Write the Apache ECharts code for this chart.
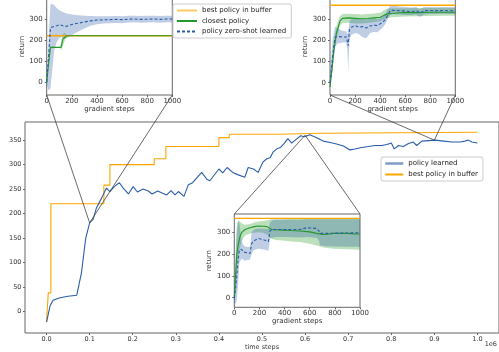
<!DOCTYPE html>
<html>
<head>
<meta charset="utf-8">
<script src="https://cdn.jsdelivr.net/npm/echarts@6/dist/echarts.min.js"></script>
<style>
  html, body { margin: 0; padding: 0; background: #fff; }
  #chart01 { width: 499px; height: 352px; }
</style>
</head>
<body>
<div id="chart01"></div>
<script>
// ---- main chart data (time steps in 1e6) ----
var policyX = [0.0, 0.008, 0.015, 0.031, 0.05, 0.07, 0.081, 0.091, 0.10, 0.108, 0.116, 0.128, 0.139, 0.147, 0.157,
  0.169, 0.178, 0.19, 0.201, 0.211, 0.224, 0.236, 0.245, 0.258, 0.268, 0.279, 0.289, 0.298, 0.306, 0.319,
  0.329, 0.339, 0.36, 0.372, 0.379, 0.40, 0.409, 0.419, 0.432, 0.445, 0.46, 0.468, 0.48, 0.491, 0.502,
  0.511, 0.519, 0.526, 0.536, 0.543, 0.551, 0.56, 0.569, 0.577, 0.59, 0.598, 0.611, 0.627, 0.642, 0.658,
  0.673, 0.689, 0.704, 0.716, 0.731, 0.747, 0.762, 0.778, 0.79, 0.80, 0.807, 0.817, 0.828, 0.84, 0.851,
  0.859, 0.871, 0.886, 0.902, 0.921, 0.94, 0.96, 0.971, 0.979, 0.987, 1.0];
var policyY = [-22, 11, 23, 28, 31, 33, 79, 150, 181, 188, 212, 232, 252, 245, 255,
  263, 252, 240, 255, 244, 250, 246, 240, 246, 242, 238, 247, 238, 245, 235,
  259, 263, 284, 270, 267, 291, 283, 294, 284, 279, 274, 294, 291, 284, 305,
  312, 314, 326, 333, 335, 343, 353, 344, 350, 359, 357, 361, 355, 348, 345,
  342, 338, 330, 332, 335, 337, 339, 339, 341, 344, 332, 339, 337, 343, 346,
  339, 348, 349, 350, 348, 346, 346, 348, 350, 346, 344];

var bufferX = [0, 0.004, 0.01, 0.133, 0.147, 0.25, 0.277, 0.40, 0.424, 0.54, 0.635, 1.0];
var bufferY = [-22, 38, 220, 258, 300, 312, 337, 355, 362, 364, 366, 366];

// points of the main curve that each inset zooms on
var zoomAnchors = [[0.1, 181], [0.9, 350], [0.6, 360]];

// ---- inset 1 (around 0.1e6) ----
var in1BestX = [0, 1000];
var in1BestY = [220, 220];
var in1CloseX = [0, 10, 30, 115, 130, 160, 1000];
var in1CloseY = [-5, 60, 165, 165, 205, 220, 220];
var in1CloseBandX = [0, 10, 30, 105, 115, 130, 145, 160, 1000];
var in1CloseLo = [-5, 55, 160, 165, 150, 175, 200, 220, 220];
var in1CloseHi = [-5, 65, 170, 165, 195, 230, 235, 220, 220];
var in1ZeroX = [0, 15, 30, 45, 60, 80, 100, 120, 140, 160, 180, 200, 250, 300, 350, 400, 450, 500, 550, 600, 650, 700, 750, 800, 850, 900, 950, 1000];
var in1ZeroY = [0, 120, 258, 262, 265, 268, 272, 270, 264, 266, 270, 274, 280, 286, 291, 295, 296, 297, 298, 297, 299, 300, 298, 299, 300, 298, 300, 300];
var in1ZeroLo = [-10, -40, -30, 60, 150, 190, 210, 215, 205, 210, 215, 222, 240, 255, 268, 275, 278, 280, 281, 280, 283, 284, 282, 283, 284, 282, 284, 284];
var in1ZeroHi = [5, 200, 370, 372, 365, 352, 342, 336, 330, 326, 324, 322, 318, 316, 314, 313, 313, 313, 314, 313, 315, 315, 314, 315, 316, 314, 316, 316];

// ---- inset 2 (around 0.9e6) ----
var in2BestX = [0, 1000];
var in2BestY = [366, 366];
var in2CloseX = [0, 15, 30, 50, 80, 100, 150, 200, 250, 300, 350, 400, 430, 460, 480, 520, 560, 600, 700, 800, 900, 1000];
var in2CloseY = [-20, 60, 150, 230, 292, 304, 306, 304, 302, 303, 306, 309, 318, 325, 327, 328, 330, 331, 331, 333, 333, 333];
var in2CloseLo = [-30, 30, 120, 200, 270, 282, 283, 280, 280, 282, 285, 290, 298, 306, 308, 310, 312, 313, 314, 315, 316, 316];
var in2CloseHi = [-10, 90, 180, 265, 315, 324, 326, 325, 322, 324, 327, 330, 342, 350, 352, 352, 352, 352, 353, 353, 354, 354];
var in2ZeroX = [0, 20, 40, 60, 100, 130, 140, 145, 155, 170, 200, 230, 260, 290, 320, 350, 380, 400, 420, 440, 460, 480, 500, 550, 600, 650, 690, 700, 720, 750, 800, 850, 900, 950, 1000];
var in2ZeroY = [0, 120, 216, 218, 216, 216, 190, 175, 250, 262, 270, 262, 265, 258, 268, 272, 270, 278, 285, 297, 318, 340, 342, 340, 338, 335, 340, 332, 328, 340, 341, 340, 341, 340, 340];
var in2ZeroLo = [-20, 60, 170, 185, 190, 190, 150, 50, 200, 225, 235, 230, 215, 210, 235, 240, 238, 250, 260, 275, 300, 320, 325, 322, 320, 318, 322, 315, 312, 322, 325, 325, 326, 325, 325];
var in2ZeroHi = [20, 200, 265, 255, 245, 242, 230, 240, 290, 300, 305, 300, 302, 300, 302, 305, 300, 305, 315, 325, 345, 362, 365, 360, 358, 355, 358, 350, 348, 358, 358, 356, 357, 356, 356];

// ---- inset 3 (around 0.6e6) ----
var in3BestX = [0, 1000];
var in3BestY = [364, 364];
var in3CloseX = [0, 10, 20, 30, 45, 60, 85, 125, 160, 190, 230, 260, 297, 330, 390, 450, 523, 600, 655, 680, 708, 740, 788, 850, 894, 950, 1000];
var in3CloseY = [5, 100, 200, 240, 280, 300, 313, 321, 326, 329, 328, 326, 313, 312, 310, 308, 306, 302, 295, 293, 290, 291, 295, 295, 295, 293, 292];
var in3CloseLo = [-20, 20, 120, 180, 230, 260, 285, 295, 298, 300, 298, 290, 270, 265, 262, 258, 255, 248, 240, 235, 230, 228, 225, 224, 222, 221, 220];
var in3CloseHi = [20, 200, 330, 355, 350, 340, 335, 338, 345, 350, 352, 355, 360, 360, 360, 362, 362, 362, 362, 362, 362, 362, 364, 364, 364, 364, 364];
var in3ZeroX = [0, 10, 20, 30, 40, 58, 70, 85, 125, 138, 150, 164, 191, 218, 244, 271, 284, 300, 337, 416, 523, 576, 655, 675, 682, 700, 735, 800, 900, 1000];
var in3ZeroY = [-3, 40, 100, 170, 219, 222, 210, 203, 203, 249, 258, 264, 272, 268, 264, 257, 307, 312, 313, 313, 313, 321, 318, 305, 295, 295, 295, 296, 297, 298];
var in3ZeroLo = [-20, -30, -10, 60, 160, 180, 175, 170, 175, 200, 215, 220, 225, 222, 220, 215, 270, 275, 278, 278, 276, 278, 275, 260, 240, 238, 236, 235, 234, 234];
var in3ZeroHi = [10, 150, 300, 350, 345, 260, 245, 235, 232, 300, 310, 315, 318, 318, 316, 315, 345, 355, 358, 358, 358, 360, 360, 360, 360, 360, 360, 360, 360, 360];

var mainXTicks = [0, 0.1, 0.2, 0.3, 0.4, 0.5, 0.6, 0.7, 0.8, 0.9, 1.0];
var mainYTicks = [0, 50, 100, 150, 200, 250, 300, 350];
var insetYTicks = [0, 100, 200, 300];

// ---- styling ----
var FONT = 'DejaVu Sans';
var C_BLUE = '#2a5da8';
var C_ORANGE = '#ffa500';
var C_GREEN = '#22992a';
var C_BLUE_BAND = 'rgba(42,93,168,0.3)';
var C_GREEN_BAND = 'rgba(50,160,50,0.33)';
var FRAME = '#666';

var insetRange = [
  { ymin: -62, ymax: 400 },
  { ymin: -58, ymax: 400 },
  { ymin: -44, ymax: 384 }
];

function pairs(xs, ys) {
  return xs.map(function (x, i) { return [x, ys[i]]; });
}

// shaded band between lo and hi, drawn as one polygon through the axes
function band(ax, xs, lo, hi, color) {
  return {
    type: 'custom', xAxisIndex: ax, yAxisIndex: ax, silent: true, z: 1,
    data: xs.map(function (x, i) { return [x, lo[i], hi[i]]; }),
    encode: { x: 0, y: [1, 2] },
    renderItem: function (params, api) {
      if (params.dataIndex !== 0) return null;
      var pts = [];
      for (var i = 0; i < xs.length; i++) pts.push(api.coord([xs[i], hi[i]]));
      for (var j = xs.length - 1; j >= 0; j--) pts.push(api.coord([xs[j], lo[j]]));
      return { type: 'polygon', shape: { points: pts }, style: { fill: color } };
    }
  };
}

function insetX(ax) {
  return {
    type: 'value', gridIndex: ax, min: 0, max: 1000, interval: 200,
    name: 'gradient steps', nameLocation: 'middle', nameGap: 9.5,
    nameTextStyle: { fontFamily: FONT, fontSize: 7, color: '#333' },
    axisLine: { show: false, onZero: false },
    axisTick: { show: true, inside: false, length: 2, lineStyle: { color: FRAME } },
    axisLabel: { fontFamily: FONT, fontSize: 7, color: '#333', margin: 2.5,
      formatter: function (v) { return String(v); } },
    splitLine: { show: false }
  };
}

function insetY(ax) {
  var r = insetRange[ax - 1];
  return {
    type: 'value', gridIndex: ax, min: r.ymin, max: r.ymax,
    name: 'return', nameLocation: 'middle', nameGap: 19, nameRotate: 90,
    nameTextStyle: { fontFamily: FONT, fontSize: 7, color: '#333' },
    axisLine: { show: false, onZero: false },
    axisTick: { show: true, inside: false, length: 2, lineStyle: { color: FRAME }, customValues: insetYTicks },
    axisLabel: { fontFamily: FONT, fontSize: 7, color: '#333', margin: 4, customValues: insetYTicks },
    splitLine: { show: false }
  };
}

function insetLines(ax, best, close, zero) {
  return [
    { name: 'best policy in buffer', type: 'line', xAxisIndex: ax, yAxisIndex: ax, symbol: 'none', z: 2,
      lineStyle: { color: C_ORANGE, width: 1.4 }, itemStyle: { color: C_ORANGE }, data: best },
    { name: 'closest policy', type: 'line', xAxisIndex: ax, yAxisIndex: ax, symbol: 'none', z: 3,
      lineStyle: { color: C_GREEN, width: 1.1 }, itemStyle: { color: C_GREEN }, data: close },
    { name: 'policy zero-shot learned', type: 'line', xAxisIndex: ax, yAxisIndex: ax, symbol: 'none', z: 4,
      lineStyle: { color: C_BLUE, width: 1.1, type: [3, 2] }, itemStyle: { color: C_BLUE }, data: zero }
  ];
}

var chart01Dom = document.getElementById('chart01');
var chart01 = echarts.init(chart01Dom, null, { renderer: 'canvas', width: 499, height: 352 });

var series = [
  { name: 'policy learned', type: 'line', xAxisIndex: 0, yAxisIndex: 0, symbol: 'none', z: 3,
    lineStyle: { color: C_BLUE, width: 1.1 }, itemStyle: { color: C_BLUE }, data: pairs(policyX, policyY) },
  { name: 'best policy in buffer', type: 'line', xAxisIndex: 0, yAxisIndex: 0, symbol: 'none', step: 'end', z: 2,
    lineStyle: { color: C_ORANGE, width: 1.1 }, itemStyle: { color: C_ORANGE }, data: pairs(bufferX, bufferY) }
];
series = series
  .concat([band(1, in1CloseBandX, in1CloseLo, in1CloseHi, C_GREEN_BAND),
           band(1, in1ZeroX, in1ZeroLo, in1ZeroHi, C_BLUE_BAND)])
  .concat(insetLines(1, pairs(in1BestX, in1BestY), pairs(in1CloseX, in1CloseY), pairs(in1ZeroX, in1ZeroY)))
  .concat([band(2, in2CloseX, in2CloseLo, in2CloseHi, C_GREEN_BAND),
           band(2, in2ZeroX, in2ZeroLo, in2ZeroHi, C_BLUE_BAND)])
  .concat(insetLines(2, pairs(in2BestX, in2BestY), pairs(in2CloseX, in2CloseY), pairs(in2ZeroX, in2ZeroY)))
  .concat([band(3, in3CloseX, in3CloseLo, in3CloseHi, C_GREEN_BAND),
           band(3, in3ZeroX, in3ZeroLo, in3ZeroHi, C_BLUE_BAND)])
  .concat(insetLines(3, pairs(in3BestX, in3BestY), pairs(in3CloseX, in3CloseY), pairs(in3ZeroX, in3ZeroY)));

function gridBox(left, top, width, height, bg) {
  return { left: left, top: top, width: width, height: height, outerBoundsMode: 'none', containLabel: false,
    show: true, borderColor: FRAME, borderWidth: 1, backgroundColor: bg };
}

var option_c01 = {
  animation: false,
  backgroundColor: '#fff',
  textStyle: { fontFamily: FONT },
  grid: [
    gridBox(25, 122, 474, 211, 'transparent'),
    gridBox(46.7, -2, 125.6, 97, '#fff'),
    gridBox(330, -2, 125.3, 97, '#fff'),
    gridBox(234.3, 214, 125.7, 93.3, '#fff')
  ],
  xAxis: [
    {
      type: 'value', gridIndex: 0, min: -0.05, max: 1.05,
      name: 'time steps', nameLocation: 'middle', nameGap: 11, nameMoveOverlap: false,
      nameTextStyle: { fontFamily: FONT, fontSize: 6.5, color: '#333' },
      axisLine: { show: false, onZero: false },
      axisTick: { show: true, inside: false, length: 2, lineStyle: { color: FRAME }, customValues: mainXTicks },
      axisLabel: { fontFamily: FONT, fontSize: 6.5, color: '#333', margin: 2.5, customValues: mainXTicks,
        formatter: function (v) { return v.toFixed(1); } },
      splitLine: { show: false }
    },
    insetX(1), insetX(2), insetX(3)
  ],
  yAxis: [
    {
      type: 'value', gridIndex: 0, min: -44, max: 387,
      name: 'return', nameLocation: 'middle', nameGap: 15, nameRotate: 90,
      nameTextStyle: { fontFamily: FONT, fontSize: 6.5, color: '#333' },
      axisLine: { show: false, onZero: false },
      axisTick: { show: true, inside: false, length: 2, lineStyle: { color: FRAME }, customValues: mainYTicks },
      axisLabel: { fontFamily: FONT, fontSize: 6.5, color: '#333', margin: 3.5, customValues: mainYTicks },
      splitLine: { show: false }
    },
    insetY(1), insetY(2), insetY(3)
  ],
  legend: [
    {
      orient: 'vertical', left: 381, top: 157,
      padding: [3, 5, 3, 3], itemGap: 4, itemWidth: 18, itemHeight: 8,
      backgroundColor: '#fff', borderColor: '#ccc', borderWidth: 1, borderRadius: 2,
      textStyle: { fontFamily: FONT, fontSize: 7, color: '#222' },
      itemStyle: { opacity: 0 },
      selectedMode: false,
      data: [
        { name: 'policy learned', lineStyle: { color: '#7f9ccb', width: 2.5 } },
        { name: 'best policy in buffer' }
      ]
    },
    {
      orient: 'vertical', left: 173, top: 4,
      padding: [3, 5, 3, 3], itemGap: 3.5, itemWidth: 20, itemHeight: 8,
      backgroundColor: '#fff', borderColor: '#ccc', borderWidth: 1, borderRadius: 2,
      textStyle: { fontFamily: FONT, fontSize: 7, color: '#222' },
      itemStyle: { opacity: 0 },
      selectedMode: false,
      data: [
        { name: 'best policy in buffer', lineStyle: { color: '#ffc864', width: 2 } },
        { name: 'closest policy' },
        { name: 'policy zero-shot learned' }
      ]
    }
  ],
  graphic: [
    { type: 'text', right: 2, bottom: 4,
      style: { text: '1e6', fontFamily: FONT, fontSize: 6.5, fill: '#333' } }
  ],
  series: series
};

chart01.setOption(option_c01);

// connector lines from each inset to the point it magnifies
var insetCorners = [
  { ax: 1, ys: insetRange[0].ymin },
  { ax: 2, ys: insetRange[1].ymin },
  { ax: 3, ys: insetRange[2].ymax }
];
var connectors = [];
insetCorners.forEach(function (c, k) {
  var p = chart01.convertToPixel({ xAxisIndex: 0, yAxisIndex: 0 }, zoomAnchors[k]);
  [0, 1000].forEach(function (gx) {
    var q = chart01.convertToPixel({ xAxisIndex: c.ax, yAxisIndex: c.ax }, [gx, c.ys]);
    connectors.push({
      type: 'line', z: 10, silent: true,
      shape: { x1: q[0], y1: q[1], x2: p[0], y2: p[1] },
      style: { stroke: '#444', lineWidth: 0.8 }
    });
  });
});
chart01.setOption({ graphic: option_c01.graphic.concat(connectors) });
</script>
</body>
</html>
